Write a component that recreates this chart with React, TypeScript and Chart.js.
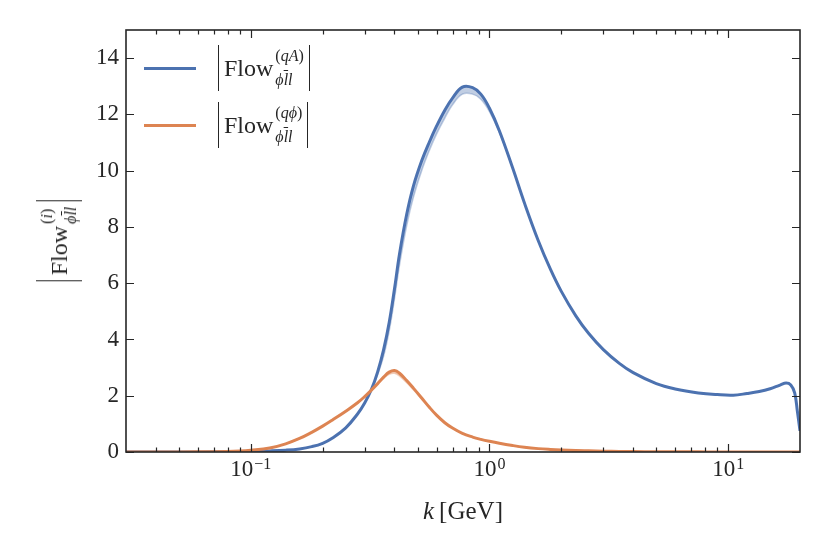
import { useEffect, useRef } from 'react';
import { Chart, registerables } from 'chart.js';

Chart.register(...registerables);

// momentum grid k [GeV]
const kValues = [
  0.03, 0.05, 0.07, 0.09, 0.1, 0.12, 0.14, 0.16, 0.18, 0.2,
  0.22, 0.25, 0.28, 0.3, 0.32, 0.34, 0.36, 0.38, 0.4, 0.42,
  0.45, 0.48, 0.52, 0.56, 0.6, 0.65, 0.7, 0.77, 0.85, 0.92,
  1.0, 1.1, 1.25, 1.4, 1.6, 1.8, 2.0, 2.3, 2.6, 3.0,
  3.5, 4.0, 5.0, 6.0, 7.5, 9.0, 10.5, 12.0, 13.5, 15.0,
  16.5, 17.5, 18.3, 19.0, 19.5, 20.0,
];

// |Flow^(qA)|, central line and lower edge of the band
const flowQA = [
  0, 0, 0.005, 0.015, 0.025, 0.04, 0.065, 0.11, 0.19, 0.31,
  0.5, 0.86, 1.35, 1.74, 2.22, 2.85, 3.63, 4.6, 5.8, 7.05,
  8.45, 9.45, 10.35, 11.02, 11.58, 12.15, 12.58, 12.97, 12.95, 12.72,
  12.22, 11.42, 10.1, 8.86, 7.52, 6.5, 5.71, 4.84, 4.22, 3.64,
  3.15, 2.82, 2.43, 2.24, 2.1, 2.04, 2.02, 2.08, 2.15, 2.25,
  2.38, 2.45, 2.38, 2.1, 1.45, 0.75,
];
const flowQALow = [
  0, 0, 0.005, 0.015, 0.025, 0.04, 0.065, 0.11, 0.19, 0.31,
  0.5, 0.86, 1.35, 1.74, 2.2, 2.75, 3.4, 4.3, 5.45, 6.65,
  8.05, 9.05, 10.0, 10.72, 11.3, 11.87, 12.34, 12.72, 12.72, 12.54,
  12.1, 11.36, 10.1, 8.86, 7.52, 6.5, 5.71, 4.84, 4.22, 3.64,
  3.15, 2.82, 2.43, 2.24, 2.1, 2.04, 2.02, 2.08, 2.15, 2.25,
  2.38, 2.45, 2.38, 2.1, 1.45, 0.75,
];

// |Flow^(qphi)|, central line and lower edge of the band
const flowQPhi = [
  0, 0.003, 0.012, 0.035, 0.06, 0.14, 0.29, 0.48, 0.7, 0.92,
  1.14, 1.45, 1.75, 1.97, 2.2, 2.43, 2.66, 2.84, 2.9, 2.8,
  2.54, 2.27, 1.92, 1.59, 1.31, 1.04, 0.85, 0.66, 0.53, 0.45,
  0.38, 0.31, 0.23, 0.17, 0.12, 0.09, 0.07, 0.05, 0.04, 0.03,
  0.02, 0.015, 0.01, 0.007, 0.005, 0.003, 0.002, 0.002, 0.001, 0.001,
  0.001, 0, 0, 0, 0, 0,
];
const flowQPhiLow = [
  0, 0.003, 0.012, 0.035, 0.06, 0.14, 0.29, 0.48, 0.7, 0.92,
  1.14, 1.45, 1.75, 1.97, 2.2, 2.42, 2.61, 2.76, 2.8, 2.7,
  2.46, 2.21, 1.88, 1.57, 1.31, 1.04, 0.85, 0.66, 0.53, 0.45,
  0.38, 0.31, 0.23, 0.17, 0.12, 0.09, 0.07, 0.05, 0.04, 0.03,
  0.02, 0.015, 0.01, 0.007, 0.005, 0.003, 0.002, 0.002, 0.001, 0.001,
  0.001, 0, 0, 0, 0, 0,
];

const yTickValues = [0, 2, 4, 6, 8, 10, 12, 14];
const xMajorTicks = [0.1, 1, 10];
const xTickBase = '10';
const xTickExponents = ['−1', '0', '1'];
const xMinorTicks = [
  0.04, 0.05, 0.06, 0.07, 0.08, 0.09,
  0.2, 0.3, 0.4, 0.5, 0.6, 0.7, 0.8, 0.9,
  2, 3, 4, 5, 6, 7, 8, 9,
];

const BLUE = '#4C72B0';
const ORANGE = '#DD8452';
const INK = '#262626';
const SERIF = "'Liberation Serif', 'DejaVu Serif', serif";

const pts = (ys: number[]) => kValues.map((x, i) => ({ x, y: ys[i] }));

// box + inward ticks on all four sides, and the 10^n labels
const frameTicks = {
  id: 'frameTicks',
  afterDatasetsDraw(chart: any) {
    const { ctx, chartArea: a, scales } = chart;
    const x = scales.x;
    const y = scales.y;
    ctx.save();
    ctx.strokeStyle = INK;
    ctx.lineWidth = 1.2;
    ctx.beginPath();
    yTickValues.forEach((v) => {
      const py = Math.round(y.getPixelForValue(v)) + 0.5;
      ctx.moveTo(a.left, py); ctx.lineTo(a.left + 8, py);
      ctx.moveTo(a.right, py); ctx.lineTo(a.right - 8, py);
    });
    xMajorTicks.forEach((v) => {
      const px = Math.round(x.getPixelForValue(v)) + 0.5;
      ctx.moveTo(px, a.bottom); ctx.lineTo(px, a.bottom - 8);
      ctx.moveTo(px, a.top); ctx.lineTo(px, a.top + 8);
    });
    xMinorTicks.forEach((v) => {
      const px = Math.round(x.getPixelForValue(v)) + 0.5;
      ctx.moveTo(px, a.bottom); ctx.lineTo(px, a.bottom - 4.5);
      ctx.moveTo(px, a.top); ctx.lineTo(px, a.top + 4.5);
    });
    ctx.stroke();
    ctx.lineWidth = 1.6;
    ctx.strokeRect(a.left, a.top, a.right - a.left, a.bottom - a.top);

    ctx.fillStyle = INK;
    ctx.textBaseline = 'alphabetic';
    ctx.textAlign = 'left';
    xMajorTicks.forEach((v, i) => {
      const px = x.getPixelForValue(v);
      ctx.font = `23px ${SERIF}`;
      const wBase = ctx.measureText(xTickBase).width;
      ctx.font = `16px ${SERIF}`;
      const wExp = ctx.measureText(xTickExponents[i]).width;
      const left = px - (wBase + 1 + wExp) / 2;
      ctx.font = `23px ${SERIF}`;
      ctx.fillText(xTickBase, left, a.bottom + 24);
      ctx.font = `16px ${SERIF}`;
      ctx.fillText(xTickExponents[i], left + wBase + 1, a.bottom + 17);
    });
    ctx.restore();
  },
};

function FlowSymbol({ sup, size }: { sup: React.ReactNode; size: number }) {
  const bar = `1.4px solid ${INK}`;
  return (
    <span style={{
      display: 'inline-flex', alignItems: 'center', height: Math.round(size * 1.92),
      borderLeft: bar, borderRight: bar, padding: '0 5px', fontFamily: SERIF,
      fontSize: size, color: INK, lineHeight: 1, whiteSpace: 'nowrap',
    }}>
      <span>Flow</span>
      <span style={{
        display: 'inline-flex', flexDirection: 'column', justifyContent: 'space-between',
        height: '100%', fontSize: Math.round(size * 0.68), marginLeft: 2,
        padding: '3px 0 3px', boxSizing: 'border-box',
      }}>
        <span>{sup}</span>
        <span>
          <i>ϕ</i><i style={{ textDecoration: 'overline' }}>l</i><i>l</i>
        </span>
      </span>
    </span>
  );
}

function LegendRow({ color, top, sup }: { color: string; top: number; sup: React.ReactNode }) {
  return (
    <>
      <div style={{ position: 'absolute', left: 144, top: top - 1.5, width: 52, height: 3, background: color }} />
      <div style={{ position: 'absolute', left: 218, top: top - 23 }}>
        <FlowSymbol sup={sup} size={24} />
      </div>
    </>
  );
}

export default function App() {
  const canvasRef = useRef<HTMLCanvasElement>(null);
  const chartRef = useRef<Chart | null>(null);

  useEffect(() => {
    if (!canvasRef.current) return;
    if (chartRef.current) chartRef.current.destroy();

    const line = (data: number[], color: string, order: number) => ({
      data: pts(data), borderColor: color, borderWidth: 3, pointRadius: 0,
      tension: 0.4, fill: false, order,
    });
    const band = (data: number[], color: string, target: number, order: number) => ({
      data: pts(data), borderColor: color, backgroundColor: color, borderWidth: 1.5,
      pointRadius: 0, tension: 0.4, fill: target, order,
    });

    chartRef.current = new Chart(canvasRef.current, {
      type: 'line',
      data: {
        datasets: [
          line(flowQPhi, ORANGE, 0),
          line(flowQA, BLUE, 1),
          band(flowQPhiLow, 'rgba(221,132,82,0.35)', 0, 2),
          band(flowQALow, 'rgba(76,114,176,0.35)', 1, 3),
        ] as any,
      },
      options: {
        animation: false,
        responsive: true,
        maintainAspectRatio: false,
        layout: { padding: { top: 30, right: 30, left: 0, bottom: 0 } },
        plugins: { legend: { display: false }, tooltip: { enabled: false } },
        scales: {
          x: {
            type: 'logarithmic',
            min: 0.03,
            max: 20,
            grid: { display: false, drawTicks: false },
            border: { display: false },
            afterBuildTicks: (s: any) => { s.ticks = xMajorTicks.map((value) => ({ value })); },
            afterFit: (s: any) => { s.height = 102; },
            ticks: { display: false },
          },
          y: {
            type: 'linear',
            min: 0,
            max: 15,
            grid: { display: false, drawTicks: false },
            border: { display: false },
            afterBuildTicks: (s: any) => { s.ticks = yTickValues.map((value) => ({ value })); },
            afterFit: (s: any) => { s.width = 126; },
            ticks: {
              padding: 7, color: INK,
              font: { family: SERIF, size: 23 },
            },
          },
        },
      },
      plugins: [frameTicks],
    });

    return () => chartRef.current?.destroy();
  }, []);

  return (
    <div style={{ position: 'absolute', left: 0, top: 0, width: 830, height: 554, background: '#fff' }}>
      <canvas ref={canvasRef} />
      <LegendRow color={BLUE} top={68} sup={<>(<i>qA</i>)</>} />
      <LegendRow color={ORANGE} top={125} sup={<>(<i>qϕ</i>)</>} />
      <div style={{
        position: 'absolute', left: 59, top: 241, transform: 'translate(-50%, -50%) rotate(-90deg)',
      }}>
        <FlowSymbol sup={<>(<i>i</i>)</>} size={24} />
      </div>
      <div style={{
        position: 'absolute', left: 463, top: 510, transform: 'translate(-50%, -50%)',
        fontFamily: SERIF, fontSize: 25, color: INK, whiteSpace: 'nowrap', lineHeight: 1,
      }}>
        <i>k</i>&thinsp;[GeV]
      </div>
    </div>
  );
}
